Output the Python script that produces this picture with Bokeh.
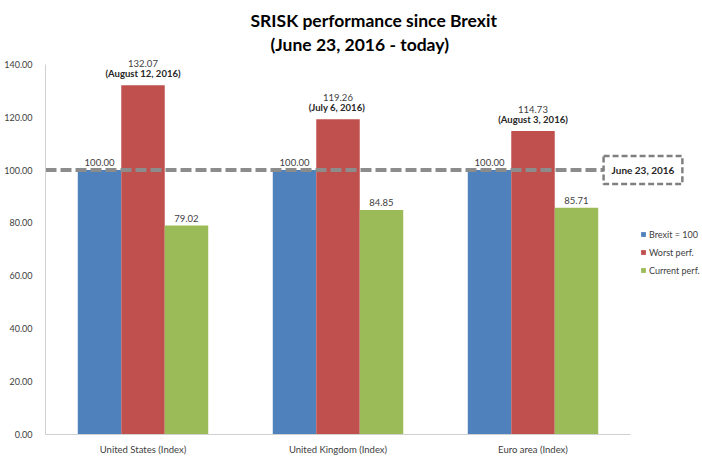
from bokeh.plotting import figure
from bokeh.models import (ColumnDataSource, Range1d, LabelSet, Label, Title,
                          Legend, LegendItem, NumeralTickFormatter, FixedTicker)
from bokeh.core.properties import value
from bokeh.embed import file_html
from bokeh.resources import INLINE

# ---- data ----
categories = ["United States (Index)", "United Kingdom (Index)", "Euro area (Index)"]
brexit = [100.00, 100.00, 100.00]
worst = [132.07, 119.26, 114.73]
current = [79.02, 84.85, 85.71]
worst_dates = ["(August 12, 2016)", "(July 6,  2016)", "(August 3, 2016)"]
series_names = ["Brexit = 100", "Worst perf.", "Current perf."]
reference_value = 100.0
reference_label = "June 23, 2016"
title_lines = ["SRISK performance since Brexit", "(June 23, 2016 - today)"]
y_ticks = [0, 20, 40, 60, 80, 100, 120, 140]

# ---- styles / layout ----
colors = ["#4f81bd", "#c0504d", "#9bbb59"]
FONT = "Lato"
BAR_W = 0.223
offsets = [-BAR_W, 0.0, BAR_W]
CAT_PX = 195.0            # pixels per category slot
LEFT = 45
TOP = 54
W, H = 702, 457
X_END = (W - LEFT) / CAT_PX
Y_MAX_AXIS = 140
Y_END = 143.7             # headroom for labels above the top tick
REF_LINE_END = 2.862      # where the dashed line meets the boxed label

n = len(categories)
centers = [i + 0.5 for i in range(n)]

src = ColumnDataSource(dict(
    xc=centers,
    brexit=brexit, worst=worst, current=current,
    brexit_txt=["%.2f" % v for v in brexit],
    worst_txt=["%.2f" % v for v in worst],
    current_txt=["%.2f" % v for v in current],
    dates=worst_dates,
))
cols = ["brexit", "worst", "current"]
for c, off in zip(cols, offsets):
    src.data["x_" + c] = [x + off for x in centers]

p = figure(width=W, height=H, output_backend="svg", toolbar_location=None,
           x_range=Range1d(0, X_END), y_range=Range1d(0, Y_END),
           min_border_left=LEFT, min_border_right=0, min_border_top=TOP, min_border_bottom=16)
p.outline_line_color = None
p.grid.grid_line_color = None
p.title = None

renderers = []
for c, col in zip(cols, colors):
    r = p.vbar(x="x_" + c, top=c, width=BAR_W, bottom=0,
               source=src, fill_color=col, line_color=None)
    renderers.append(r)

# axes
p.yaxis.ticker = FixedTicker(ticks=y_ticks)
p.yaxis.bounds = (0, Y_MAX_AXIS)
p.yaxis.formatter = NumeralTickFormatter(format="0.00")
p.yaxis.major_tick_line_color = None
p.yaxis.minor_tick_line_color = None
p.yaxis.axis_line_color = "#d0d0d0"
p.yaxis.major_label_standoff = 7
p.yaxis.major_label_text_font = FONT
p.yaxis.major_label_text_font_size = "9px"
p.yaxis.major_label_text_color = "#404040"

p.xaxis.ticker = FixedTicker(ticks=centers)
p.xaxis.major_label_overrides = {x: c for x, c in zip(centers, categories)}
p.xaxis.bounds = (0, n)
p.xaxis.major_tick_line_color = None
p.xaxis.minor_tick_line_color = None
p.xaxis.axis_line_color = "#d0d0d0"
p.xaxis.major_label_standoff = 3
p.xaxis.major_label_text_font = FONT
p.xaxis.major_label_text_font_size = "9.5px"
p.xaxis.major_label_text_color = "#404040"

# reference dashed line
p.segment(x0=0, x1=REF_LINE_END, y0=reference_value, y1=reference_value,
          line_color="#8c8c8c", line_width=4, line_dash="11 4")

# value labels
for c in cols:
    yo = 18 if c == "worst" else 4
    p.add_layout(LabelSet(x="x_" + c, y=c, text=c + "_txt",
                          source=src, y_offset=yo, text_align="center",
                          text_baseline="bottom", text_font=value(FONT),
                          text_font_size="9.5px", text_color="#404040"))
p.add_layout(LabelSet(x="x_worst", y="worst", text="dates",
                      source=src, y_offset=6, text_align="center", text_baseline="bottom",
                      text_font=value(FONT), text_font_size="9.5px", text_font_style="bold",
                      text_color="#262626"))

# boxed label
p.add_layout(Label(x=REF_LINE_END, y=reference_value, text=reference_label,
                   text_align="left", text_baseline="middle", text_font=FONT,
                   text_font_size="10px", text_font_style="bold", text_color="#262626",
                   padding=8, background_fill_color="white",
                   border_line_color="#808080", border_line_width=2.5,
                   border_line_dash="6 3"))

# title (two lines)
p.add_layout(Title(text=title_lines[1], align="left", offset=225, standoff=0,
                   text_font=FONT, text_font_size="17.5px", text_font_style="bold",
                   text_color="#000000"), "above")
p.add_layout(Title(text=title_lines[0], align="left", offset=205, standoff=2,
                   text_font=FONT, text_font_size="17.5px", text_font_style="bold",
                   text_color="#000000"), "above")

# legend
legend = Legend(items=[LegendItem(label=nm, renderers=[r]) for nm, r in zip(series_names, renderers)],
                location=(595, 158), padding=0, margin=0, spacing=6,
                label_height=12, glyph_width=6, glyph_height=6, label_standoff=3,
                label_text_font=FONT, label_text_font_size="9px",
                label_text_color="#404040", border_line_color=None,
                background_fill_alpha=0)
p.add_layout(legend)

open("out.html", "w").write(file_html(p, INLINE))
